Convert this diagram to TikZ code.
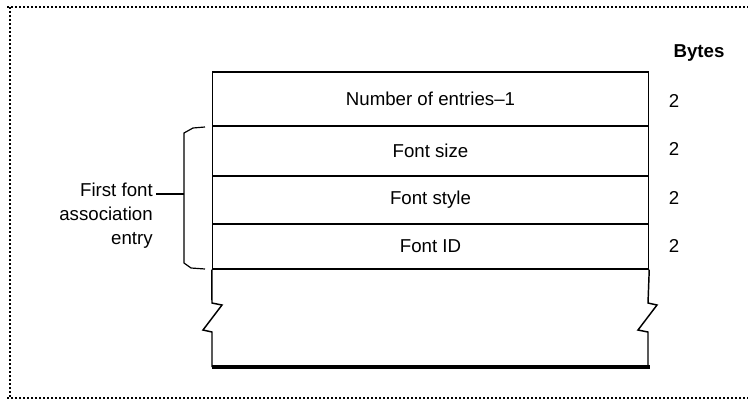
\documentclass[tikz,border=0pt]{standalone}
\usepackage{fontspec}
\setmainfont{Liberation Sans}
\begin{document}
\begin{tikzpicture}[x=0.75pt,y=-0.75pt,
  every node/.style={font=\fontsize{14}{18}\selectfont, inner sep=0pt},
  field/.style={draw, line width=1.1pt, minimum width=327pt},
  frameline/.style={line width=0.8pt, dash pattern=on 1.5pt off 1.5pt},
  outline/.style={line width=1.1pt},
  bracel/.style={line width=0.9pt}]
\useasboundingbox (0,0) rectangle (748,403);
% dotted frame
\draw[frameline] (7,7) -- (748,7);
\draw[frameline] (10,7) -- (10,398);
\draw[frameline] (7,398) -- (748,398);
% fields
\node[field, minimum height=40.5pt] (f1) at (430.5,99) {Number of entries–1};
\node[field, minimum height=37.5pt] (f2) at (430.5,151) {Font size};
\node[field, minimum height=36pt] (f3) at (430.5,200) {Font style};
\node[field, minimum height=33.75pt] (f4) at (430.5,246.5) {Font ID};
% lower broken part
\draw[outline] (f4.south west) -- (212,303) -- (222,305) -- (203,330) -- (212,332) -- (212,367);
\draw[outline] (f4.south east) -- (648,303) -- (657,305) -- (638,330) -- (648,332) -- (648,367);
\draw[line width=2.4pt] (211.5,367) -- (649.5,367);
% bytes column
\node[font=\fontsize{14}{18}\selectfont\bfseries] (bytes) at (699,53) {Bytes};
\node (b1) at (674,101) {2};
\node (b2) at (674,149) {2};
\node (b3) at (674,198) {2};
\node (b4) at (674,246) {2};
% brace and label
\draw[bracel] (205,127) -- (193,128) -- (184,133) -- (184,263) -- (191,268) -- (205,269);
\coordinate (tip) at (184,194);
\node[align=right, anchor=north east] (lab) at (153,183) {First font\\association\\entry};
\draw[bracel] (tip) -- (156,194);
\end{tikzpicture}
\end{document}
